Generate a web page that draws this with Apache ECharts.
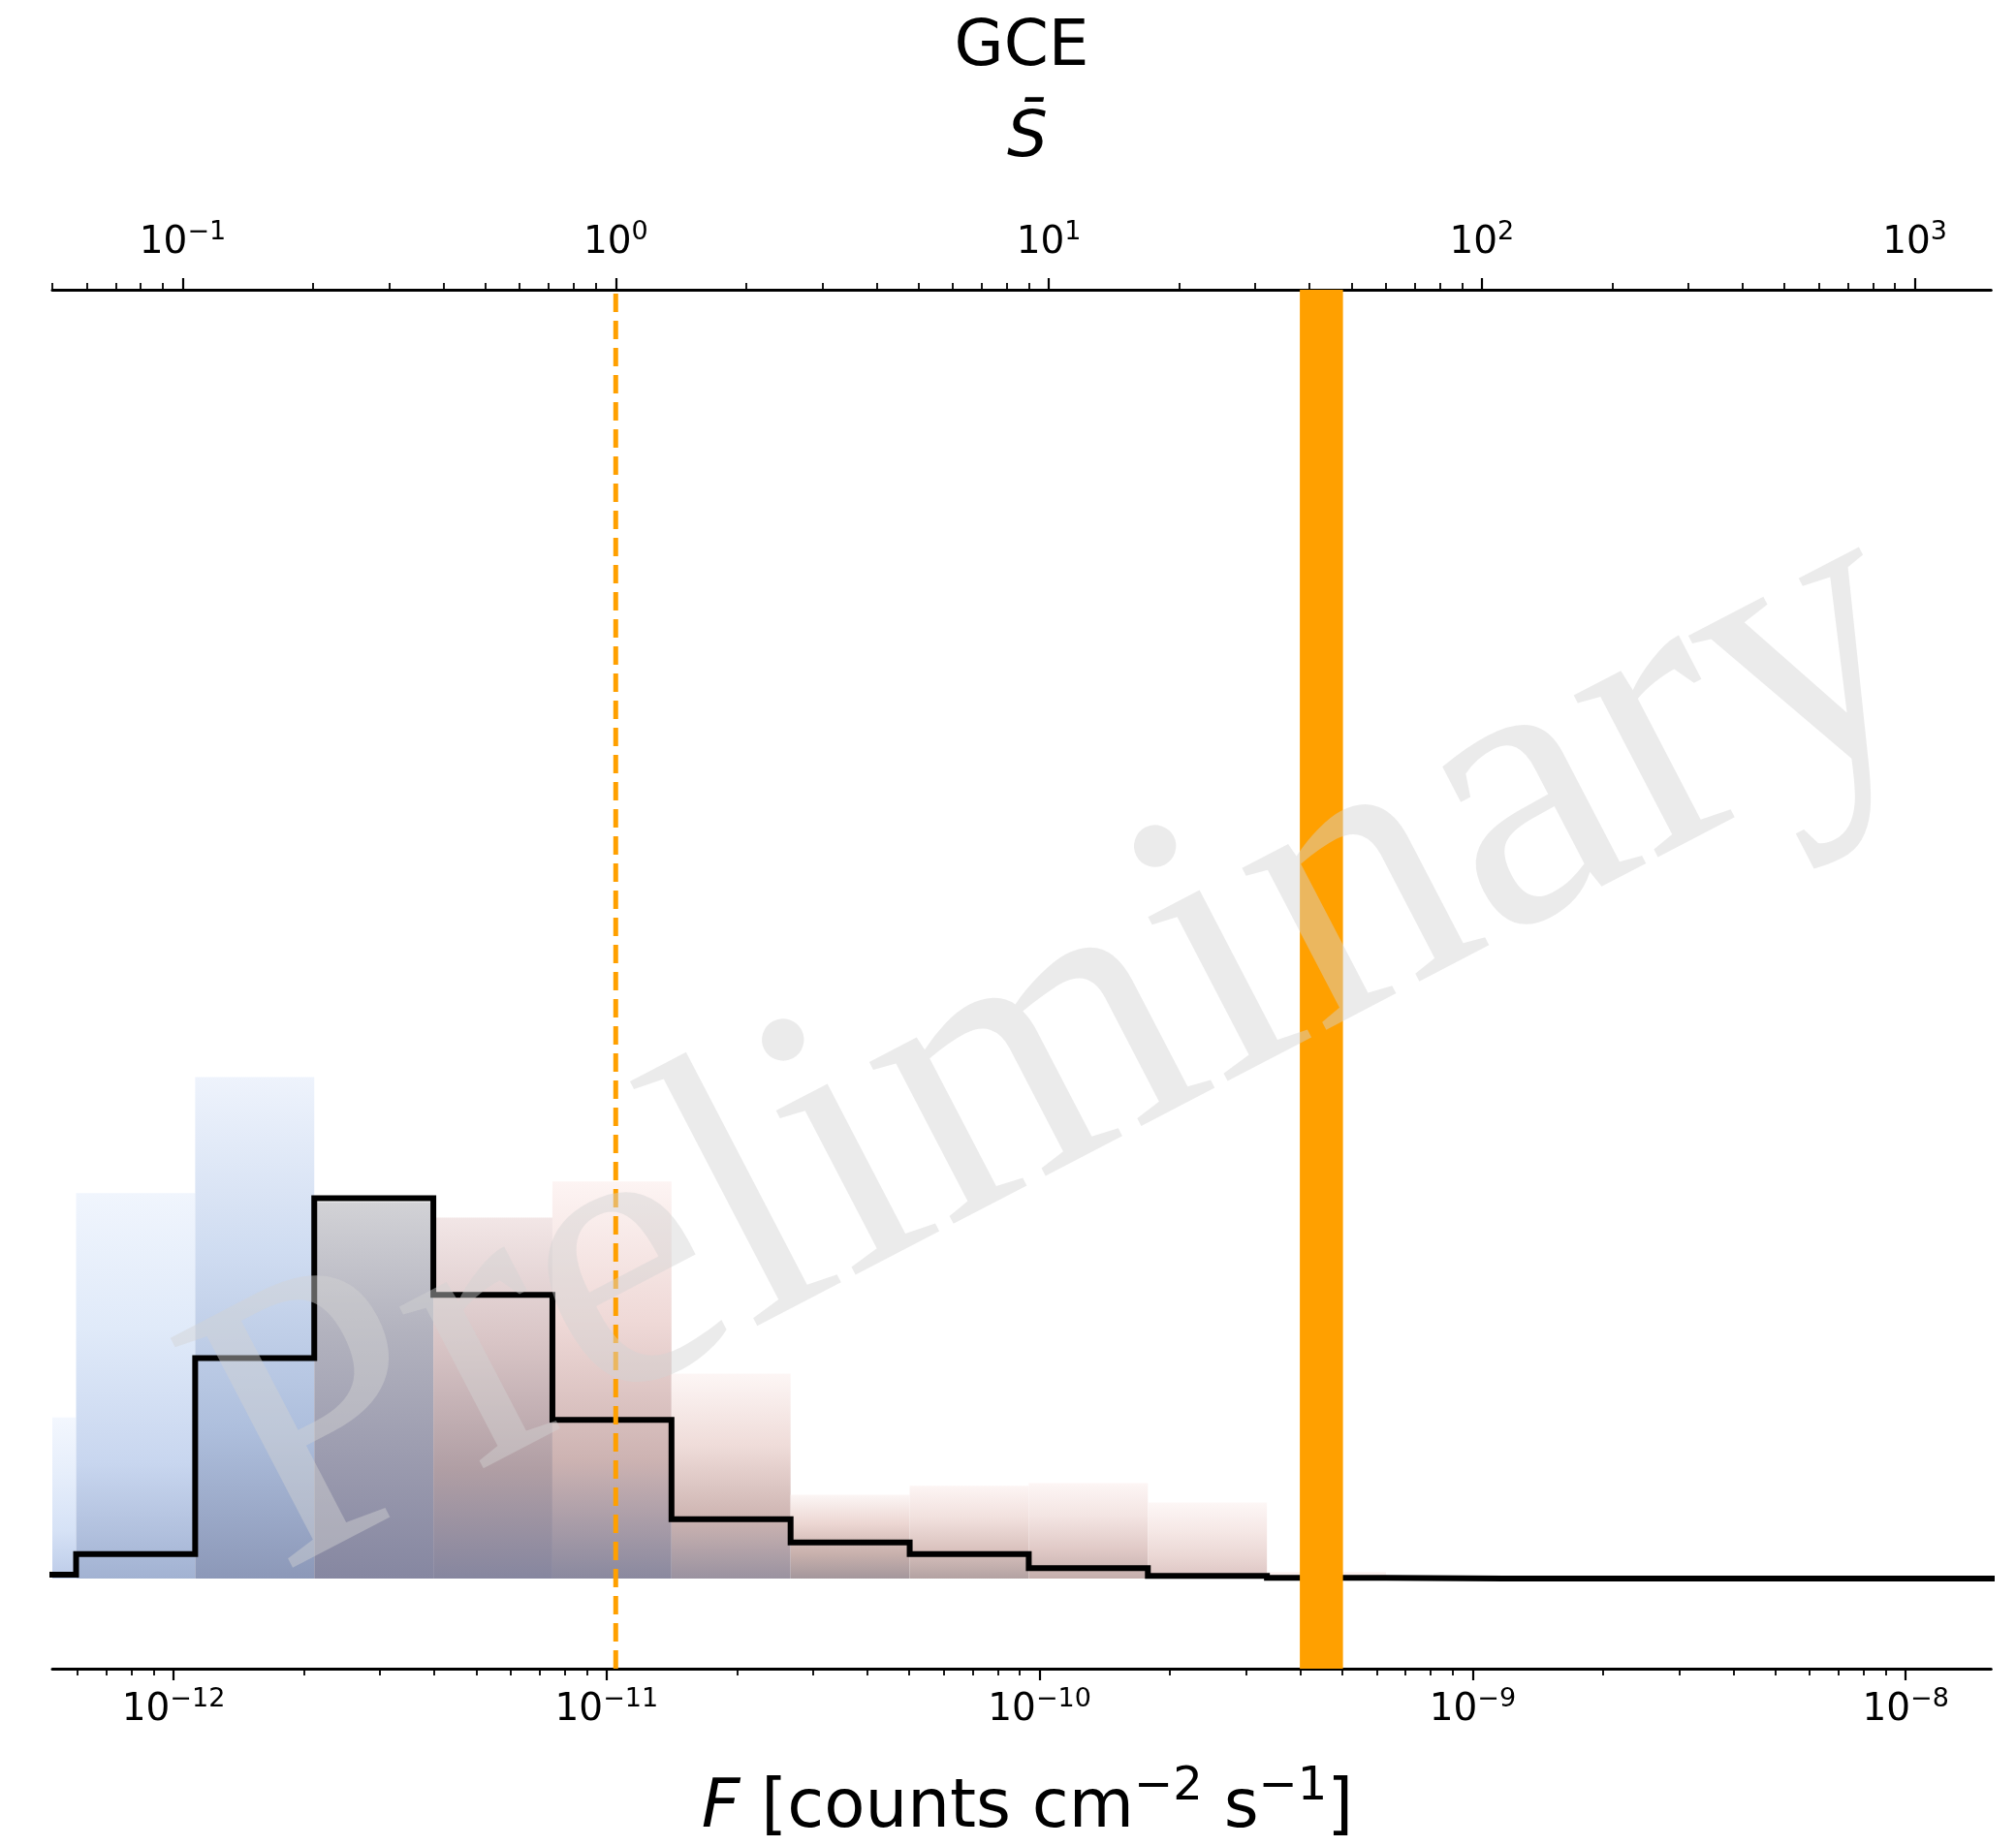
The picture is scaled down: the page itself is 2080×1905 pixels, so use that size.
<!DOCTYPE html>
<html><head><meta charset="utf-8">
<script src="https://cdn.jsdelivr.net/npm/echarts@6/dist/echarts.min.js"></script>
<style>html,body{margin:0;padding:0;background:#fff}#c{width:2080px;height:1905px}</style>
</head><body><div id="c"></div>
<script>
// ---------------- data ----------------
// log10 of the histogram bin edges in F [counts cm^-2 s^-1]
const binEdgeExp = [-12.5,-12.225,-11.95,-11.675,-11.4,-11.125,-10.85,-10.575,-10.3,-10.025,-9.75,-9.475,-9.2,-8.925,-8.65,-8.375,-8.1,-7.825,-7.55,-7.275,-7.0];
// black step histogram (median)
const medianHist = [0.003,0.019,0.171,0.295,0.220,0.123,0.046,0.028,0.019,0.008,0.002,0.0004,0,0,0,0,0,0,0,0];
// upper envelope of the shaded quantile histograms
const upperHist  = [0.125,0.299,0.389,0.292,0.280,0.308,0.159,0.065,0.072,0.074,0.059,0.005,0,0,0,0,0,0,0,0];
const fluxRange = [5.25e-13, 1.575e-8];   // bottom axis limits
const countsRange = [0.05, 1500];         // top axis limits (S bar)
const thresholdCounts = 1;                // dashed line
const bandCounts = [38.0, 47.8];          // orange band
const bottomMajorTicks = [1e-12,1e-11,1e-10,1e-9,1e-8];
const topMajorTicks = [0.1,1,10,100,1000];
const minorMultipliers = [2,3,4,5,6,7,8,9];
const yRange = [-0.07, 1.0];

// ---------------- style ----------------
const binGrad = [
  ['#f3f7fe','#e6eefb','#d6e2f6','#bccbe8'],
  ['#f0f5fd','#e0eaf9','#c8d6ef','#a2b2d2'],
  ['#eef3fc','#cfdcf1','#aebfdd','#8c98b8'],
  ['#d2d2d6','#b2b2be','#9a9aae','#8687a1'],
  ['#f2e6e6','#d8c4c5','#b09ea4','#86869f'],
  ['#fdf4f3','#efd9d7','#cdb3b2','#8a899f'],
  ['#fdf6f5','#efdcd9','#ceb5b2','#9a92a0'],
  ['#fcf6f5','#ecd6d2','#c9b1ad','#a4979c'],
  ['#fdf5f4','#f1e0dd','#d9c1bd','#b3a2a2'],
  ['#fdf6f5','#f3e4e2','#e0c9c6','#c4aeac'],
  ['#fdf7f6','#f6e9e7','#ebd8d5','#dcc4c2'],
  ['#fcf2f1','#fbefee','#f8e8e7','#f4e2e0']
];
const ORANGE = '#ffa000';
const FONT = '"DejaVu Sans", sans-serif';

const binEdges = binEdgeExp.map(e => Math.pow(10, e));
const nBins = medianHist.length;

const barData = [];
for (let i = 0; i < nBins; i++) {
  if (upperHist[i] > 0) barData.push([binEdges[i], binEdges[i+1], upperHist[i], i]);
}
const stepData = binEdges.map((e, i) => [e, medianHist[Math.min(i, nBins-1)]]);

function minorList(range) {
  const out = [];
  const lo = Math.floor(Math.log10(range[0])), hi = Math.ceil(Math.log10(range[1]));
  for (let d = lo; d <= hi; d++) {
    minorMultipliers.forEach(m => {
      const v = m * Math.pow(10, d);
      if (v >= range[0] && v <= range[1]) out.push(v);
    });
  }
  return out;
}

function fmt(v) {
  const e = Math.round(Math.log10(v));
  return '{m|10}{s|' + (e < 0 ? '\u2212' + (-e) : String(e)) + '}';
}
const richTick = {
  m: {fontFamily: FONT, fontSize: 39, lineHeight: 50, color: '#000'},
  s: {fontFamily: FONT, fontSize: 27, lineHeight: 30, color: '#000', verticalAlign: 'top'}
};

function logAxis(extra) {
  return Object.assign({
    type: 'log', logBase: 10,
    splitLine: {show: false}, minorTick: {show: false}, minorSplitLine: {show: false}
  }, extra);
}

const chart = echarts.init(document.getElementById('c'), null, {renderer: 'canvas'});
chart.setOption({
  backgroundColor: '#fff',
  animation: false,
  grid: {left: 54, right: 25.7, top: 299, bottom: 183, containLabel: false},
  xAxis: [
    logAxis({position: 'bottom', min: fluxRange[0], max: fluxRange[1],
      axisLine: {show: true, onZero: false, lineStyle: {color: '#000', width: 3}},
      axisTick: {show: true, length: 12, lineStyle: {color: '#000', width: 2.2}, customValues: bottomMajorTicks},
      axisLabel: {show: true, customValues: bottomMajorTicks, margin: 18, formatter: fmt, rich: richTick}}),
    logAxis({position: 'top', min: countsRange[0], max: countsRange[1],
      axisLine: {show: true, onZero: false, lineStyle: {color: '#000', width: 3}},
      axisTick: {show: true, length: 12, lineStyle: {color: '#000', width: 2.2}, customValues: topMajorTicks},
      axisLabel: {show: true, customValues: topMajorTicks, margin: 23, formatter: fmt, rich: richTick}}),
    logAxis({position: 'bottom', min: fluxRange[0], max: fluxRange[1],
      axisLine: {show: false, onZero: false},
      axisTick: {show: true, length: 7, lineStyle: {color: '#000', width: 1.8}, customValues: minorList(fluxRange)},
      axisLabel: {show: false}}),
    logAxis({position: 'top', min: countsRange[0], max: countsRange[1],
      axisLine: {show: false, onZero: false},
      axisTick: {show: true, length: 7, lineStyle: {color: '#000', width: 1.8}, customValues: minorList(countsRange)},
      axisLabel: {show: false}})
  ],
  yAxis: [{type: 'value', min: yRange[0], max: yRange[1], show: false, splitLine: {show: false}}],
  series: [
    {
      type: 'custom', xAxisIndex: 0, yAxisIndex: 0, z: 1,
      data: barData, encode: {x: [0, 1], y: 2},
      renderItem: function (params, api) {
        const i = api.value(3);
        const p0 = api.coord([api.value(0), api.value(2)]);
        const p1 = api.coord([api.value(1), 0]);
        const cs = params.coordSys;
        const shape = echarts.graphic.clipRectByRect(
          {x: p0[0], y: p0[1], width: p1[0] - p0[0], height: p1[1] - p0[1]},
          {x: cs.x, y: cs.y, width: cs.width, height: cs.height});
        if (!shape) return null;
        const c = binGrad[i];
        return {type: 'rect', shape: shape, style: {
          fill: new echarts.graphic.LinearGradient(0, 0, 0, 1, [
            {offset: 0, color: c[0]}, {offset: 0.35, color: c[1]},
            {offset: 0.7, color: c[2]}, {offset: 1, color: c[3]}])
        }};
      }
    },
    {
      type: 'line', xAxisIndex: 0, yAxisIndex: 0, z: 3, step: 'end',
      data: stepData, symbol: 'none', silent: true,
      lineStyle: {color: '#000', width: 6, join: 'miter'}
    },
    {
      type: 'custom', xAxisIndex: 1, yAxisIndex: 0, z: 4,
      data: [[bandCounts[0], bandCounts[1]]], encode: {x: [0, 1]},
      renderItem: function (params, api) {
        const p0 = api.coord([api.value(0), yRange[1]]);
        const p1 = api.coord([api.value(1), yRange[0]]);
        return {type: 'rect', shape: {x: p0[0], y: p0[1], width: p1[0] - p0[0], height: p1[1] - p0[1]},
          style: {fill: ORANGE}};
      }
    },
    {
      type: 'line', xAxisIndex: 1, yAxisIndex: 0, z: 4,
      data: [[thresholdCounts, yRange[0]], [thresholdCounts, yRange[1]]],
      symbol: 'none', silent: true,
      lineStyle: {color: ORANGE, width: 5, type: [19, 9]}
    }
  ],
  graphic: [
    {type: 'text', x: 1054, y: 50, z: 100, style: {text: 'GCE', fontFamily: FONT, fontSize: 66, fill: '#000', align: 'center', verticalAlign: 'middle'}},
    {type: 'text', x: 1060, y: 144, z: 100, style: {text: 'S\u0304', fontFamily: FONT, fontStyle: 'italic', fontSize: 66, fill: '#000', align: 'center', verticalAlign: 'middle'}},
    {type: 'text', x: 1060, y: 1867, z: 100, style: {
      text: '{i|F} [counts cm{s|\u22122} s{s|\u22121}]',
      align: 'center', verticalAlign: 'middle',
      rich: {
        i: {fontFamily: FONT, fontStyle: 'italic', fontSize: 69, lineHeight: 92, fill: '#000'},
        s: {fontFamily: FONT, fontSize: 48, lineHeight: 48, verticalAlign: 'top'}
      },
      fontFamily: FONT, fontSize: 69, lineHeight: 92, fill: '#000'}},
    {type: 'text', x: 1098, y: 1082, rotation: 27.5 * Math.PI / 180, z: 200, style: {
      text: 'Preliminary', fontFamily: '"Liberation Serif", serif', fontSize: 410,
      fill: 'rgba(211,211,211,0.45)', align: 'center', verticalAlign: 'middle'}}
  ]
});
</script></body></html>
